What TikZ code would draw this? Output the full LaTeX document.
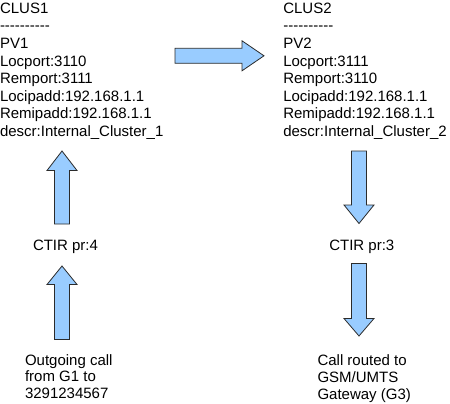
\documentclass[tikz,border=0pt]{standalone}
\usepackage{fontspec}
\setmainfont{Liberation Sans}[Ligatures=NoCommon]
\definecolor{arrowfill}{HTML}{99CCFF}
\definecolor{arrowline}{HTML}{2B2B2B}
\newcommand{\dashrow}{-{}-{}-{}-{}-{}-{}-{}-{}-{}-}
\tikzset{
  txt/.style={anchor=base west, inner sep=0pt, outer sep=0pt, font=\fontsize{15}{17.6}\selectfont},
  txtb/.style={anchor=base west, inner sep=0pt, outer sep=0pt, font=\fontsize{15}{16.8}\selectfont},
  blockarrow/.style={fill=arrowfill, draw=arrowline, line width=0.8pt, line join=miter}
}
\begin{document}
\begin{tikzpicture}[x=1pt,y=-1pt]
\useasboundingbox (0,0) rectangle (450,404);
% text blocks
\node[txt] (clus1) at (0,13.3) {\begin{tabular}[t]{@{}l@{}}CLUS1\\\dashrow\\PV1\\Locport:3110\\Remport:3111\\Locipadd:192.168.1.1\\Remipadd:192.168.1.1\\descr:Internal\_Cluster\_1\end{tabular}};
\node[txt] (clus2) at (283.3,13.3) {\begin{tabular}[t]{@{}l@{}}CLUS2\\\dashrow\\PV2\\Locport:3111\\Remport:3110\\Locipadd:192.168.1.1\\Remipadd:192.168.1.1\\descr:Internal\_Cluster\_2\end{tabular}};
\node[txt] (ctir4) at (33,250) {CTIR pr:4};
\node[txt] (ctir3) at (329.3,250) {CTIR pr:3};
\node[txtb] (out) at (25,365) {\begin{tabular}[t]{@{}l@{}}Outgoing call\\from G1 to\\3291234567\end{tabular}};
\node[txtb] (routed) at (317.5,365.7) {\begin{tabular}[t]{@{}l@{}}Call routed to\\GSM/UMTS\\Gateway (G3)\end{tabular}};
% horizontal arrow CLUS1 -> CLUS2
\filldraw[blockarrow] (175,48.3) -- (242,48.3) -- (242,40.8) -- (264,55.8) -- (242,70.8) -- (242,63.3) -- (175,63.3) -- cycle;
% up arrow: CTIR pr:4 -> CLUS1
\filldraw[blockarrow] (54.5,224) -- (54.5,170.5) -- (47,170.5) -- (62,151) -- (77,170.5) -- (69.5,170.5) -- (69.5,224) -- cycle;
% up arrow: outgoing call -> CTIR pr:4
\filldraw[blockarrow] (54.5,339.5) -- (54.5,284.5) -- (47,284.5) -- (62,266) -- (77,284.5) -- (69.5,284.5) -- (69.5,339.5) -- cycle;
% down arrow: CLUS2 -> CTIR pr:3
\filldraw[blockarrow] (351.5,151) -- (351.5,205) -- (344,205) -- (359,223.5) -- (374,205) -- (366.5,205) -- (366.5,151) -- cycle;
% down arrow: CTIR pr:3 -> call routed
\filldraw[blockarrow] (351.5,263.5) -- (351.5,318.5) -- (344,318.5) -- (359,336) -- (374,318.5) -- (366.5,318.5) -- (366.5,263.5) -- cycle;
\end{tikzpicture}
\end{document}
